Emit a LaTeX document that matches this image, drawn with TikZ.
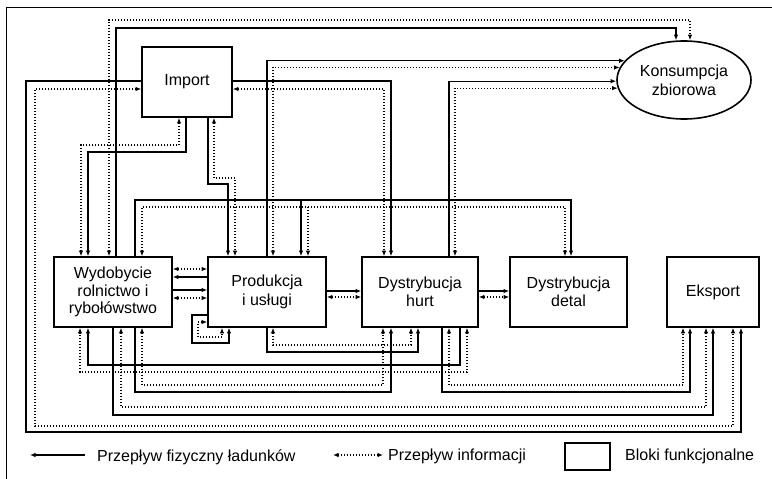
\documentclass[tikz,border=0pt]{standalone}
\usepackage{fontspec}
\setmainfont{Liberation Sans}
\usetikzlibrary{arrows.meta,shapes.geometric}
\begin{document}
\begin{tikzpicture}[x=1pt,y=-1pt,
  >={Latex[length=5.5pt,width=4.5pt]},
  blok/.style={draw,line width=1.6pt,minimum height=70pt,inner sep=0pt,align=center,font=\fontsize{16}{18.5}\selectfont},
  phys/.style={line width=1.1pt},
  info/.style={line width=1.2pt,dash pattern=on 1pt off 2pt},
  lbl/.style={font=\fontsize{16}{18}\selectfont,inner sep=0pt,anchor=base west}
]
\useasboundingbox (0,0) rectangle (772,479);
% frame
\draw[line width=1pt] (6,479) -- (6,7) -- (772,7);

% blocks
\node[blok,minimum width=90pt] (imp) at (187,82) {Import};
\node[blok,minimum width=118pt,font=\fontsize{16}{17.5}\selectfont] (wyd) at (113,292) {Wydobycie\\rolnictwo i\\rybołówstwo};
\node[blok,minimum width=118pt] (prod) at (267,292) {Produkcja\\i usługi};
\node[blok,minimum width=116pt] (hurt) at (420,292) {Dystrybucja\\hurt};
\node[blok,minimum width=117pt] (det) at (568.5,292) {Dystrybucja\\detal};
\node[blok,minimum width=92pt] (eks) at (713,292) {Eksport};
\node[draw,ellipse,line width=1.6pt,minimum width=134pt,minimum height=78pt,inner sep=0pt,align=center,font=\fontsize{16}{19}\selectfont] (kons) at (684,80) {Konsumpcja\\zbiorowa};

% Wydobycie <-> Konsumpcja (top)
\draw[info,<->] (wyd.north -| 109,0) |- (690,20) -- (kons.north -| 690,0);
\draw[phys,->] (wyd.north -| 116,0) |- (676,28) -- (kons.north -| 676,0);

% Import -> Eksport (outer loop)
\draw[phys,->] (imp.west |- 0,81) -| (26,432) -| (eks.south -| 741,0);
\draw[info,<->] (imp.west |- 0,89) -| (35,426) -| (eks.south -| 733,0);

% Import -> Hurt
\draw[phys,->] (imp.east |- 0,81) -| (hurt.north -| 391,0);
\draw[info,<->] (imp.east |- 0,89) -| (hurt.north -| 384,0);

% Produkcja -> Konsumpcja
\draw[phys,->] (prod.north -| 267,0) |- (kons.162);
\draw[info,<->] (prod.north -| 273,0) |- (kons.169);

% Hurt -> Konsumpcja
\draw[phys,->] (hurt.north -| 449,0) |- (kons.181);
\draw[info,<->] (hurt.north -| 455,0) |- (kons.187);

% Import -> Wydobycie
\draw[phys,->] (imp.south -| 186,0) -- (186,152) -| (wyd.north -| 88,0);
\draw[info,<->] (imp.south -| 179,0) -- (179,145) -| (wyd.north -| 81,0);

% Import -> Produkcja
\draw[phys,->] (imp.south -| 208,0) -- (208,184) -| (prod.north -| 228,0);
\draw[info,<->] (imp.south -| 214,0) -- (214,178) -| (prod.north -| 235,0);

% Wydobycie -> Produkcja, Detal (top)
\coordinate (tj1) at (301,200);
\coordinate (tj2) at (308,207);
\draw[phys,->] (wyd.north -| 135,0) |- (571,200) -- (det.north -| 571,0);
\draw[phys,->] (tj1) -- (prod.north -| tj1);
\draw[info,<->] (wyd.north -| 142,0) |- (565,207) -- (det.north -| 565,0);
\draw[info,->] (tj2) -- (prod.north -| tj2);

% side connectors
\draw[info,<->] (wyd.east |- 0,269) -- (prod.west |- 0,269);
\draw[phys,->] (prod.west |- 0,277) -- (wyd.east |- 0,277);
\draw[phys,->] (wyd.east |- 0,290) -- (prod.west |- 0,290);
\draw[info,<->] (wyd.east |- 0,298) -- (prod.west |- 0,298);
\draw[phys,->] (prod.east |- 0,291) -- (hurt.west |- 0,291);
\draw[info,<->] (prod.east |- 0,297) -- (hurt.west |- 0,297);
\draw[phys,->] (hurt.east |- 0,291) -- (det.west |- 0,291);
\draw[info,<->] (hurt.east |- 0,297) -- (det.west |- 0,297);

% Produkcja self loop
\draw[phys,->] (prod.west |- 0,315) -| (192,343) -| (prod.south -| 229,0);
\draw[info,<->] (prod.west |- 0,322) -| (198,337) -| (prod.south -| 222,0);

% Produkcja -> Hurt (bottom)
\draw[phys,->] (prod.south -| 267,0) -- (267,352) -| (hurt.south -| 418,0);
\draw[info,<->] (prod.south -| 273,0) -- (273,345) -| (hurt.south -| 411,0);

% Hurt -> Wydobycie
\draw[phys,->] (hurt.south -| 460,0) -- (460,365) -| (wyd.south -| 88,0);
\draw[info,<->] (hurt.south -| 467,0) -- (467,372) -| (wyd.south -| 80,0);

% Wydobycie -> Hurt
\draw[phys,->] (wyd.south -| 135,0) -- (135,392) -| (hurt.south -| 391,0);
\draw[info,<->] (wyd.south -| 142,0) -- (142,385) -| (hurt.south -| 383,0);

% Hurt -> Eksport
\draw[phys,->] (hurt.south -| 442,0) -- (442,392) -| (eks.south -| 690,0);
\draw[info,<->] (hurt.south -| 449,0) -- (449,385) -| (eks.south -| 683,0);

% Wydobycie -> Eksport
\draw[phys,->] (wyd.south -| 113,0) -- (113,415) -| (eks.south -| 713,0);
\draw[info,<->] (wyd.south -| 121,0) -- (121,407) -| (eks.south -| 706,0);

% legend
\coordinate (la1) at (85,455);
\coordinate (la2) at (30,455);
\draw[phys,->] (la1) -- (la2);
\node[lbl] (lt1) at (97,461) {Przepływ fizyczny ładunków};
\coordinate (lb1) at (333,455);
\coordinate (lb2) at (383,455);
\draw[info,<->] (lb1) -- (lb2);
\node[lbl] (lt2) at (388,460) {Przepływ informacji};
\node[draw,line width=1.6pt,minimum width=45pt,minimum height=27pt,inner sep=0pt] (lbox) at (587.5,456.5) {};
\node[lbl] (lt3) at (625,460) {Bloki funkcjonalne};
\end{tikzpicture}
\end{document}
